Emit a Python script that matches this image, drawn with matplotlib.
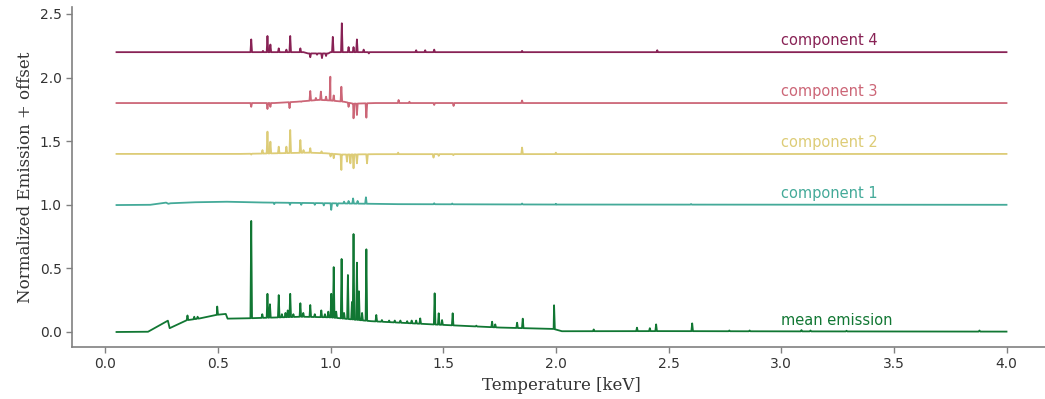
import numpy as np
import matplotlib
matplotlib.use("Agg")
import matplotlib.pyplot as plt

# ---------------- data ----------------
# mean emission: continuum knots (keV, value) and line peaks (keV, absolute value)
mean_cont_x = [0.05, 0.19, 0.278, 0.286, 0.36, 0.42, 0.495, 0.535, 0.543, 0.64, 0.87, 1.0,
               1.18, 1.45, 1.75, 1.99, 2.027, 2.5, 3.0, 4.0]
mean_cont_y = [0.0, 0.002, 0.089, 0.03, 0.092, 0.107, 0.135, 0.142, 0.105, 0.108, 0.12, 0.115,
               0.085, 0.06, 0.035, 0.024, 0.006, 0.007, 0.005, 0.003]
mean_line_x = [0.365, 0.395, 0.41, 0.497, 0.648, 0.697, 0.72, 0.731, 0.77, 0.784, 0.80, 0.81,
               0.821, 0.835, 0.866, 0.879, 0.91, 0.93, 0.959, 0.975, 0.99, 1.003, 1.014, 1.025,
               1.049, 1.06, 1.077, 1.095, 1.102, 1.117, 1.126, 1.14, 1.159, 1.203, 1.228, 1.26,
               1.285, 1.31, 1.34, 1.36, 1.38, 1.398, 1.462, 1.48, 1.495, 1.542, 1.647, 1.717,
               1.731, 1.828, 1.853, 1.992, 2.168, 2.36, 2.417, 2.445, 2.605, 2.77, 2.86, 3.09,
               3.13, 3.29, 3.88]
mean_line_y = [0.13, 0.12, 0.12, 0.2, 0.873, 0.14, 0.30, 0.218, 0.29, 0.14, 0.15, 0.17,
               0.30, 0.14, 0.226, 0.15, 0.212, 0.14, 0.17, 0.14, 0.16, 0.30, 0.51, 0.16,
               0.574, 0.15, 0.448, 0.236, 0.77, 0.545, 0.32, 0.15, 0.65, 0.134, 0.094, 0.09,
               0.09, 0.09, 0.085, 0.09, 0.09, 0.107, 0.304, 0.147, 0.094, 0.147, 0.05, 0.081,
               0.06, 0.073, 0.105, 0.21, 0.02, 0.034, 0.03, 0.06, 0.068, 0.012, 0.012, 0.015,
               0.012, 0.01, 0.012]

# component 1 (offset 1.0)
c1_cont_x = [0.05, 0.2, 0.27, 0.28, 0.29, 0.4, 0.54, 0.7, 1.0, 1.3, 2.0, 4.0]
c1_cont_y = [0.998, 1.0, 1.017, 1.008, 1.012, 1.02, 1.024, 1.018, 1.012, 1.005, 1.002, 1.0]
c1_line_x = [0.75, 0.82, 0.87, 0.93, 0.97, 1.003, 1.03, 1.06, 1.08, 1.10, 1.12, 1.157,
             1.46, 1.54, 1.85, 2.0, 2.6]
c1_line_y = [1.005, 1.0, 1.0, 1.0, 0.995, 0.96, 0.99, 1.025, 1.03, 1.05, 1.03, 1.059,
             1.012, 1.01, 1.01, 1.008, 1.006]

# component 2 (offset 1.4)
c2_cont_x = [0.05, 0.6, 0.7, 0.9, 0.98, 1.05, 1.2, 4.0]
c2_cont_y = [1.4, 1.4, 1.403, 1.41, 1.405, 1.395, 1.398, 1.4]
c2_line_x = [0.648, 0.698, 0.72, 0.733, 0.77, 0.804, 0.821, 0.866, 0.88, 0.91, 0.96, 1.0,
             1.014, 1.048, 1.073, 1.088, 1.102, 1.117, 1.162, 1.30, 1.457, 1.48, 1.545,
             1.85, 2.0]
c2_line_y = [1.395, 1.43, 1.575, 1.496, 1.457, 1.457, 1.588, 1.509, 1.43, 1.445, 1.42, 1.38,
             1.366, 1.274, 1.339, 1.326, 1.287, 1.326, 1.326, 1.41, 1.371, 1.385, 1.39,
             1.45, 1.41]

# component 3 (offset 1.8)
c3_cont_x = [0.05, 0.75, 0.85, 0.95, 1.0, 1.06, 1.1, 1.2, 4.0]
c3_cont_y = [1.8, 1.8, 1.81, 1.825, 1.82, 1.81, 1.795, 1.8, 1.8]
c3_line_x = [0.648, 0.72, 0.733, 0.818, 0.87, 0.91, 0.935, 0.957, 0.98, 0.999, 1.014,
             1.048, 1.08, 1.102, 1.117, 1.159, 1.302, 1.35, 1.46, 1.546, 1.85]
c3_line_y = [1.77, 1.753, 1.77, 1.76, 1.81, 1.895, 1.84, 1.89, 1.85, 2.007, 1.86,
             1.928, 1.77, 1.68, 1.706, 1.685, 1.824, 1.81, 1.785, 1.777, 1.82]

# component 4 (offset 2.2)
c4_cont_x = [0.05, 0.6, 0.88, 0.9, 0.99, 1.0, 4.0]
c4_cont_y = [2.2, 2.2, 2.2, 2.19, 2.19, 2.2, 2.2]
c4_line_x = [0.648, 0.70, 0.72, 0.733, 0.77, 0.804, 0.821, 0.866, 0.91, 0.94, 0.962, 0.98,
             1.01, 1.05, 1.08, 1.102, 1.117, 1.147, 1.17, 1.38, 1.42, 1.46, 1.85, 2.45]
c4_line_y = [2.30, 2.21, 2.327, 2.26, 2.23, 2.22, 2.327, 2.23, 2.16, 2.18, 2.153, 2.17,
             2.32, 2.427, 2.24, 2.24, 2.30, 2.22, 2.19, 2.215, 2.215, 2.22, 2.21, 2.215]

labels = ["mean emission", "component 1", "component 2", "component 3", "component 4"]
offsets = [0.0, 1.0, 1.4, 1.8, 2.2]
colors = ["#117733", "#44AA99", "#DDCC77", "#CC6677", "#882255"]

x_ticks = [0.0, 0.5, 1.0, 1.5, 2.0, 2.5, 3.0, 3.5, 4.0]
y_ticks = [0.0, 0.5, 1.0, 1.5, 2.0, 2.5]


def build(cx, cy, lx, ly, hw=0.0035):
    cx = np.asarray(cx, float)
    cy = np.asarray(cy, float)
    xs = list(cx)
    ys = list(cy)
    for x0, y0 in zip(lx, ly):
        for xe in (x0 - hw, x0 + hw):
            xs.append(xe)
            ys.append(float(np.interp(xe, cx, cy)))
        xs.append(x0)
        ys.append(y0)
    xs = np.asarray(xs)
    ys = np.asarray(ys)
    o = np.argsort(xs, kind="stable")
    return xs[o], ys[o]


series = [
    build(mean_cont_x, mean_cont_y, mean_line_x, mean_line_y),
    build(c1_cont_x, c1_cont_y, c1_line_x, c1_line_y),
    build(c2_cont_x, c2_cont_y, c2_line_x, c2_line_y),
    build(c3_cont_x, c3_cont_y, c3_line_x, c3_line_y),
    build(c4_cont_x, c4_cont_y, c4_line_x, c4_line_y),
]

fig = plt.figure(figsize=(10.45, 3.99), dpi=100)
ax = fig.add_axes([72 / 1045, 1 - 347 / 399, 979 / 1045, 340 / 399])

for (xs, ys), lab, off, col in zip(series, labels, offsets, colors):
    ax.plot(xs, ys, color=col, lw=1.3)
    ax.text(3.0, off + 0.088, lab, color=col, fontsize=10.5, ha="left", va="center")

ax.set_xlim(-0.1475, 4.1975)
ax.set_ylim(-0.118, 2.555)
ax.set_xticks(x_ticks)
ax.set_xticklabels([f"{t:.1f}" for t in x_ticks])
ax.set_yticks(y_ticks)
ax.set_yticklabels([f"{t:.1f}" for t in y_ticks])

for s in ["top", "right"]:
    ax.spines[s].set_visible(False)
for s in ["left", "bottom"]:
    ax.spines[s].set_color("#808080")
    ax.spines[s].set_linewidth(1.2)
ax.tick_params(colors="#333333", labelsize=10, length=4, width=1)
ax.tick_params(axis="both", color="#808080")

ax.set_xlabel("Temperature [keV]", family="DejaVu Serif", fontsize=12, color="#333333")
ax.set_ylabel("Normalized Emission + offset", family="DejaVu Serif", fontsize=12, color="#333333")

fig.savefig("out.png", dpi=100)
